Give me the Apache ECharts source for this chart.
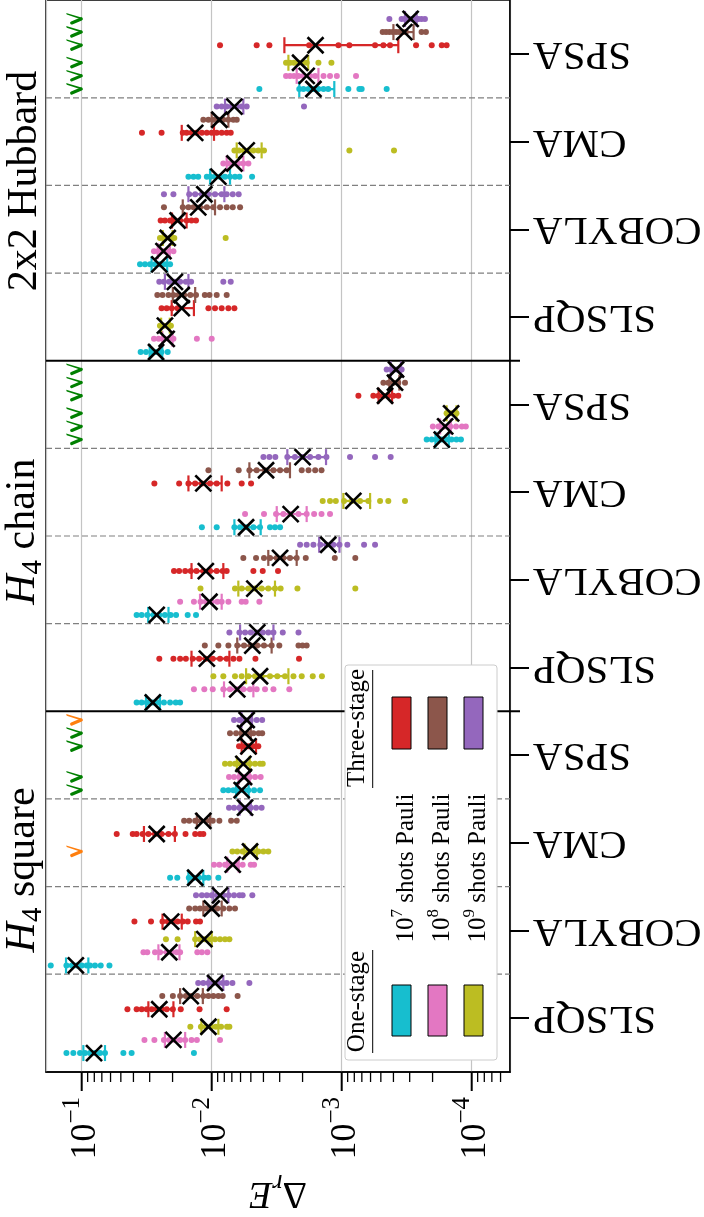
<!DOCTYPE html>
<html><head><meta charset="utf-8">
<script src="https://cdn.jsdelivr.net/npm/echarts@6/dist/echarts.min.js"></script>
<style>html,body{margin:0;padding:0;background:#fff}#c{width:704px;height:1217px}</style>
</head><body><div id="c"></div>
<script>
// ---------- categories ----------
const panelNames = ['2x2 Hubbard', 'H4 chain', 'H4 square'];
const methods = ['SPSA', 'CMA', 'COBYLA', 'SLSQP'];
const settingNames = ['One-stage 1e7', 'One-stage 1e8', 'One-stage 1e9', 'Three-stage 1e7', 'Three-stage 1e8', 'Three-stage 1e9'];
const settingColors = ['#17becf', '#e377c2', '#bcbd22', '#d62728', '#8c564b', '#9467bd'];
const majorTickValues = [1e-1, 1e-2, 1e-3, 1e-4];

// ---------- individual runs (dE), order per method: 1e7/1e8/1e9 one-stage, 1e7/1e8/1e9 three-stage ----------
const hubbardSPSA = [
  [4.30e-3, 2.12e-3, 1.97e-3, 1.80e-3, 1.65e-3, 1.51e-3, 1.38e-3, 1.27e-3, 8.89e-4, 7.31e-4, 7.02e-4, 4.51e-4],
  [2.68e-3, 2.50e-3, 2.33e-3, 2.15e-3, 1.97e-3, 1.75e-3, 1.60e-3, 1.38e-3, 1.23e-3, 1.09e-3, 7.76e-4],
  [2.68e-3, 2.50e-3, 2.33e-3, 2.15e-3, 1.99e-3, 1.86e-3, 1.51e-3, 1.20e-3],
  [8.63e-3, 4.51e-3, 3.60e-3, 1.78e-3, 1.06e-3, 8.73e-4, 5.54e-4, 4.78e-4, 4.25e-4, 2.68e-4, 2.03e-4, 1.70e-4, 1.56e-4],
  [4.84e-4, 4.56e-4, 4.30e-4, 4.05e-4, 3.82e-4, 3.60e-4, 3.40e-4, 3.21e-4, 2.43e-4, 2.25e-4],
  [4.30e-4, 3.46e-4, 3.26e-4, 3.07e-4, 2.89e-4, 2.73e-4, 2.57e-4, 2.43e-4, 2.29e-4]
];
const hubbardCMA = [
  [1.51e-2, 1.38e-2, 1.27e-2, 1.09e-2, 1.02e-2, 9.43e-3, 8.63e-3, 7.90e-3, 7.23e-3, 6.62e-3, 6.12e-3, 4.89e-3],
  [8.14e-3, 7.44e-3, 6.81e-3, 6.24e-3, 5.71e-3, 5.22e-3],
  [6.69e-3, 6.16e-3, 5.64e-3, 5.22e-3, 4.78e-3, 4.38e-3, 3.96e-3, 8.73e-4, 3.96e-4],
  [3.44e-2, 2.43e-2, 1.67e-2, 1.56e-2, 1.43e-2, 1.31e-2, 1.19e-2, 1.09e-2, 1.0e-2, 9.15e-3, 8.38e-3, 7.67e-3, 7.14e-3],
  [1.16e-2, 1.06e-2, 9.71e-3, 8.89e-3, 8.14e-3, 7.44e-3, 6.81e-3, 6.42e-3],
  [9.15e-3, 8.38e-3, 7.67e-3, 7.02e-3, 6.42e-3, 5.88e-3, 5.38e-3, 1.95e-3]
];
const hubbardCOBYLA = [
  [3.56e-2, 3.26e-2, 2.98e-2, 2.73e-2, 2.50e-2, 2.29e-2, 2.09e-2],
  [2.78e-2, 2.57e-2, 2.35e-2, 2.15e-2, 1.97e-2],
  [2.50e-2, 2.29e-2, 2.09e-2, 1.94e-2, 7.81e-3],
  [2.47e-2, 2.29e-2, 2.09e-2, 1.92e-2, 1.75e-2, 1.56e-2, 1.43e-2, 1.32e-2],
  [2.33e-2, 1.67e-2, 1.51e-2, 1.38e-2, 1.23e-2, 1.09e-2, 9.71e-3, 8.63e-3, 7.67e-3, 6.89e-3, 6.05e-3],
  [2.33e-2, 1.97e-2, 1.49e-2, 1.34e-2, 1.19e-2, 1.06e-2, 9.43e-3, 8.38e-3, 7.67e-3, 6.89e-3, 6.20e-3]
];
const hubbardSLSQP = [
  [3.52e-2, 3.20e-2, 2.89e-2, 2.65e-2, 2.43e-2, 2.18e-2],
  [2.78e-2, 2.56e-2, 2.35e-2, 2.15e-2, 1.97e-2, 1.30e-2, 1.0e-2],
  [2.50e-2, 2.33e-2, 2.15e-2, 2.06e-2],
  [2.43e-2, 2.22e-2, 2.03e-2, 1.83e-2, 1.06e-2, 9.43e-3, 8.38e-3, 7.44e-3, 6.69e-3],
  [2.62e-2, 2.39e-2, 2.15e-2, 1.97e-2, 1.80e-2, 1.63e-2, 1.46e-2, 1.32e-2, 1.13e-2, 1.04e-2, 9.15e-3, 7.67e-3],
  [2.53e-2, 2.33e-2, 2.12e-2, 1.92e-2, 1.75e-2, 1.58e-2, 1.44e-2, 8.14e-3, 7.14e-3]
];
const chainSPSA = [
  [2.22e-4, 2.03e-4, 1.86e-4, 1.70e-4, 1.56e-4, 1.43e-4, 1.31e-4, 1.21e-4],
  [1.99e-4, 1.80e-4, 1.63e-4, 1.46e-4, 1.32e-4, 1.19e-4, 1.11e-4],
  [1.56e-4, 1.43e-4, 1.31e-4],
  [7.44e-4, 5.71e-4, 5.22e-4, 4.78e-4, 4.38e-4, 4.0e-4, 3.67e-4],
  [4.78e-4, 4.38e-4, 4.0e-4, 3.67e-4, 3.26e-4],
  [4.51e-4, 4.13e-4, 3.78e-4, 3.46e-4]
];
const chainCMA = [
  [1.19e-2, 9.15e-3, 6.69e-3, 6.05e-3, 5.38e-3, 4.78e-3, 4.25e-3, 3.56e-3, 3.26e-3, 2.98e-3],
  [5.54e-3, 3.96e-3, 3.20e-3, 2.81e-3, 2.47e-3, 2.15e-3, 1.86e-3, 1.63e-3, 1.43e-3, 1.23e-3],
  [1.40e-3, 1.23e-3, 1.11e-3, 9.6e-4, 8.38e-4, 7.23e-4, 6.24e-4, 5.07e-4, 4.38e-4, 3.26e-4],
  [2.76e-2, 1.78e-2, 1.51e-2, 1.34e-2, 1.19e-2, 1.03e-2, 9.15e-3, 7.58e-3, 5.88e-3, 4.98e-3],
  [1.06e-2, 6.20e-3, 5.13e-3, 4.51e-3, 3.89e-3, 3.35e-3, 2.98e-3, 2.65e-3, 2.03e-3, 1.80e-3, 1.60e-3, 1.43e-3],
  [4.0e-3, 3.6e-3, 3.24e-3, 2.62e-3, 2.29e-3, 2.0e-3, 1.75e-3, 1.51e-3, 1.31e-3, 8.63e-4, 5.54e-4, 4.20e-4]
];
const chainCOBYLA = [
  [3.78e-2, 3.46e-2, 3.13e-2, 2.81e-2, 2.53e-2, 2.29e-2, 2.07e-2, 1.88e-2, 1.53e-2, 1.32e-2],
  [1.75e-2, 1.37e-2, 1.22e-2, 1.11e-2, 1.0e-2, 9.05e-3, 8.38e-3, 7.44e-3, 5.88e-3, 5.48e-3, 4.30e-3],
  [1.22e-2, 6.62e-3, 5.88e-3, 5.22e-3, 4.64e-3, 4.13e-3, 3.67e-3, 3.26e-3, 2.95e-3, 2.19e-3, 7.86e-4],
  [1.95e-2, 1.78e-2, 1.60e-2, 1.45e-2, 1.31e-2, 1.16e-2, 1.03e-2, 9.15e-3, 8.23e-3, 7.67e-3, 4.78e-3, 4.05e-3, 3.09e-3],
  [5.71e-3, 4.56e-3, 3.96e-3, 3.56e-3, 3.16e-3, 2.81e-3, 2.50e-3, 2.22e-3, 1.89e-3, 1.13e-3, 7.86e-4],
  [2.09e-3, 1.86e-3, 1.65e-3, 1.46e-3, 1.31e-3, 1.16e-3, 1.04e-3, 9.05e-4, 6.73e-4, 5.54e-4]
];
const chainSLSQP = [
  [3.78e-2, 3.46e-2, 3.16e-2, 2.84e-2, 2.56e-2, 2.33e-2, 2.09e-2, 1.89e-2, 1.75e-2],
  [1.37e-2, 1.14e-2, 9.82e-3, 8.14e-3, 7.23e-3, 6.42e-3, 5.71e-3, 5.07e-3, 4.51e-3, 3.89e-3, 3.35e-3, 2.53e-3],
  [9.71e-3, 8.14e-3, 6.62e-3, 5.88e-3, 5.22e-3, 4.64e-3, 4.13e-3, 3.56e-3, 3.13e-3, 2.73e-3, 2.35e-3, 2.03e-3, 1.67e-3, 1.42e-3],
  [2.53e-2, 1.97e-2, 1.75e-2, 1.58e-2, 1.40e-2, 1.25e-2, 1.11e-2, 9.82e-3, 8.63e-3, 7.67e-3, 6.81e-3, 6.12e-3, 4.61e-3, 2.13e-3],
  [1.13e-2, 8.89e-3, 7.44e-3, 6.36e-3, 5.64e-3, 5.01e-3, 4.46e-3, 3.96e-3, 3.46e-3, 3.02e-3, 2.15e-3, 2.0e-3, 1.86e-3],
  [7.31e-3, 6.12e-3, 5.54e-3, 5.01e-3, 4.51e-3, 4.05e-3, 3.67e-3, 3.35e-3, 2.84e-3, 2.15e-3]
];
const squareSPSA = [
  [8.14e-3, 7.44e-3, 6.81e-3, 6.24e-3, 5.71e-3, 5.22e-3, 4.72e-3, 4.25e-3],
  [7.36e-3, 6.73e-3, 6.12e-3, 5.64e-3, 5.10e-3, 4.64e-3, 4.20e-3],
  [7.90e-3, 7.23e-3, 6.62e-3, 6.05e-3, 5.54e-3, 5.07e-3, 4.64e-3, 4.25e-3, 4.05e-3],
  [6.16e-3, 5.71e-3, 5.22e-3, 4.78e-3, 4.38e-3],
  [7.23e-3, 6.49e-3, 5.88e-3, 5.32e-3, 4.78e-3, 4.35e-3, 4.09e-3],
  [6.73e-3, 6.12e-3, 5.54e-3, 5.01e-3, 4.51e-3, 4.09e-3]
];
const squareCMA = [
  [2.09e-2, 1.84e-2, 1.50e-2, 1.37e-2, 1.25e-2, 1.14e-2, 1.06e-2, 8.89e-3],
  [9.6e-3, 8.73e-3, 7.90e-3, 7.14e-3, 6.42e-3, 5.78e-3, 5.01e-3, 4.72e-3],
  [6.93e-3, 6.36e-3, 5.78e-3, 5.22e-3, 4.78e-3, 4.38e-3, 4.0e-3, 3.67e-3],
  [5.38e-2, 4.05e-2, 3.78e-2, 3.40e-2, 3.07e-2, 2.73e-2, 2.43e-2, 2.15e-2, 1.92e-2, 1.59e-2, 1.34e-2, 1.23e-2, 1.16e-2],
  [1.63e-2, 1.49e-2, 1.34e-2, 1.22e-2, 1.09e-2, 9.82e-3, 8.73e-3, 7.09e-3, 6.42e-3],
  [7.36e-3, 6.73e-3, 6.12e-3, 5.54e-3, 5.01e-3, 4.56e-3, 4.13e-3]
];
const squareCOBYLA = [
  [1.73e-1, 1.31e-1, 1.19e-1, 1.09e-1, 1.0e-1, 9.15e-2, 8.63e-2, 7.90e-2, 7.14e-2, 6.12e-2],
  [3.35e-2, 3.13e-2, 2.73e-2, 2.50e-2, 2.22e-2, 2.03e-2, 1.86e-2, 1.75e-2, 1.29e-2, 1.19e-2, 1.08e-2],
  [2.25e-2, 1.83e-2, 1.34e-2, 1.23e-2, 1.13e-2, 1.03e-2, 9.43e-3, 8.63e-3, 7.90e-3, 7.31e-3],
  [3.93e-2, 2.93e-2, 2.39e-2, 2.18e-2, 1.99e-2, 1.83e-2, 1.67e-2, 1.53e-2, 1.32e-2, 1.23e-2],
  [1.49e-2, 1.34e-2, 1.23e-2, 1.11e-2, 1.0e-2, 9.05e-3, 8.14e-3, 7.31e-3, 6.62e-3],
  [1.32e-2, 1.19e-2, 1.09e-2, 1.0e-2, 9.05e-3, 8.14e-3, 7.40e-3, 6.73e-3, 6.12e-3, 5.78e-3, 4.87e-3]
];
const squareSLSQP = [
  [1.31e-1, 1.16e-1, 1.03e-1, 9.43e-2, 8.63e-2, 7.90e-2, 7.23e-2, 6.62e-2, 4.78e-2, 4.13e-2, 1.37e-2],
  [3.29e-2, 2.76e-2, 2.33e-2, 2.12e-2, 1.92e-2, 1.75e-2, 1.60e-2, 1.43e-2, 1.30e-2, 8.63e-3],
  [1.46e-2, 1.21e-2, 1.11e-2, 1.01e-2, 9.31e-3, 8.47e-3, 7.62e-3, 7.31e-3],
  [4.45e-2, 3.78e-2, 3.46e-2, 3.16e-2, 2.89e-2, 2.65e-2, 2.43e-2, 2.22e-2, 1.99e-2, 1.73e-2, 1.24e-2, 7.67e-3],
  [2.40e-2, 1.99e-2, 1.75e-2, 1.58e-2, 1.43e-2, 1.29e-2, 1.16e-2, 1.06e-2, 9.71e-3, 8.89e-3, 8.23e-3, 6.32e-3],
  [1.27e-2, 1.16e-2, 1.06e-2, 9.71e-3, 8.89e-3, 8.23e-3, 7.67e-3, 6.93e-3, 5.13e-3]
];

// ---------- summary markers (X) and error bar ends, [method][setting] ----------
const hubbardMean = [
  [1.65e-3, 1.86e-3, 2.09e-3, 1.59e-3, 3.30e-4, 2.95e-4],
  [8.89e-3, 6.69e-3, 5.38e-3, 1.34e-2, 8.73e-3, 6.69e-3],
  [2.53e-2, 2.35e-2, 2.18e-2, 1.83e-2, 1.27e-2, 1.14e-2],
  [2.68e-2, 2.22e-2, 2.29e-2, 1.70e-2, 1.70e-2, 1.92e-2]
];
const hubbardLow = [
  [2.12e-3, 2.22e-3, 2.57e-3, 2.76e-3, 4.0e-4, 3.26e-4],
  [1.03e-2, 7.67e-3, 6.42e-3, 1.70e-2, 1.0e-2, 7.9e-3],
  [2.9e-2, 2.6e-2, 2.38e-2, 2.02e-2, 1.67e-2, 1.51e-2],
  [3.0e-2, 2.4e-2, 2.45e-2, 2.03e-2, 1.99e-2, 2.29e-2]
];
const hubbardHigh = [
  [1.14e-3, 1.51e-3, 1.81e-3, 3.67e-4, 2.8e-4, 2.65e-4],
  [7.23e-3, 5.71e-3, 4.13e-3, 9.6e-3, 7.44e-3, 5.71e-3],
  [2.2e-2, 2.1e-2, 2.0e-2, 1.56e-2, 9.43e-3, 7.99e-3],
  [2.4e-2, 2.0e-2, 2.1e-2, 1.37e-2, 1.34e-2, 1.51e-2]
];
const chainMean = [
  [1.70e-4, 1.60e-4, 1.44e-4, 4.64e-4, 3.89e-4, 3.82e-4],
  [5.44e-3, 2.47e-3, 8.14e-4, 1.16e-2, 3.82e-3, 2.0e-3],
  [2.65e-2, 1.04e-2, 4.70e-3, 1.11e-2, 2.98e-3, 1.27e-3],
  [2.84e-2, 6.36e-3, 4.25e-3, 1.09e-2, 4.87e-3, 4.46e-3]
];
const chainLow = [
  [1.9e-4, 1.75e-4, 1.56e-4, 5.2e-4, 4.3e-4, 4.2e-4],
  [6.69e-3, 3.16e-3, 9.71e-4, 1.51e-2, 5.13e-3, 2.62e-3],
  [3.08e-2, 1.23e-2, 6.24e-3, 1.43e-2, 3.67e-3, 1.49e-3],
  [3.2e-2, 8.04e-3, 5.44e-3, 1.43e-2, 6.36e-3, 6.05e-3]
];
const chainHigh = [
  [1.5e-4, 1.45e-4, 1.31e-4, 4.1e-4, 3.6e-4, 3.5e-4],
  [4.20e-3, 1.86e-3, 6.05e-4, 8.38e-3, 2.50e-3, 1.32e-3],
  [2.15e-2, 8.38e-3, 3.26e-3, 8.14e-3, 2.22e-3, 1.04e-3],
  [2.5e-2, 4.78e-3, 2.57e-3, 7.31e-3, 3.46e-3, 3.35e-3]
];
const squareMean = [
  [5.88e-3, 5.64e-3, 5.71e-3, 5.22e-3, 5.54e-3, 5.38e-3],
  [1.34e-2, 6.89e-3, 5.07e-3, 2.65e-2, 1.16e-2, 5.54e-3],
  [1.11e-1, 2.12e-2, 1.14e-2, 2.05e-2, 1.0e-2, 8.63e-3],
  [8.04e-2, 1.97e-2, 1.06e-2, 2.53e-2, 1.45e-2, 9.43e-3]
];
const squareLow = [
  [6.5e-3, 6.2e-3, 6.4e-3, 5.88e-3, 6.0e-3, 5.9e-3],
  [1.51e-2, 7.6e-3, 5.6e-3, 3.32e-2, 1.30e-2, 6.1e-3],
  [1.32e-1, 2.57e-2, 1.34e-2, 2.39e-2, 1.16e-2, 9.7e-3],
  [9.71e-2, 2.29e-2, 1.2e-2, 3.07e-2, 1.75e-2, 1.06e-2]
];
const squareHigh = [
  [5.2e-3, 5.1e-3, 5.1e-3, 4.56e-3, 5.0e-3, 4.9e-3],
  [1.16e-2, 6.2e-3, 4.5e-3, 1.92e-2, 1.03e-2, 5.0e-3],
  [8.89e-2, 1.77e-2, 1.0e-2, 1.70e-2, 8.38e-3, 7.44e-3],
  [6.62e-2, 1.60e-2, 8.89e-3, 1.97e-2, 1.17e-2, 8.14e-3]
];

// ---------- check marks: [panel, method, setting, kind] (kind 0 = green, 1 = orange) ----------
const checkMarks = [
  [0,0,0,0],[0,0,1,0],[0,0,2,0],[0,0,3,0],[0,0,4,0],[0,0,5,0],
  [1,0,0,0],[1,0,1,0],[1,0,2,0],[1,0,3,0],[1,0,4,0],[1,0,5,0],
  [2,0,0,0],[2,0,1,0],[2,0,3,0],[2,0,4,0],[2,0,5,1],
  [2,1,2,1]
];
const checkValue = 1e-1;
const checkColors = ['#008000', '#ff7f0e'];

// ---------- assembled tables ----------
const dots = [
  [hubbardSPSA, hubbardCMA, hubbardCOBYLA, hubbardSLSQP],
  [chainSPSA, chainCMA, chainCOBYLA, chainSLSQP],
  [squareSPSA, squareCMA, squareCOBYLA, squareSLSQP]
];
const means = [hubbardMean, chainMean, squareMean];
const lows = [hubbardLow, chainLow, squareLow];
const highs = [hubbardHigh, chainHigh, squareHigh];

// layout
const rowOffset = [0.40, 0.25, 0.10, -0.10, -0.25, -0.40];
const X_MIN = 5.075e-5, X_MAX = 0.1882;
const Y_MIN = -0.616, Y_MAX = 11.616;
const SERIF = "'Liberation Serif', 'DejaVu Serif', serif";
const panelLabelPos = [1.45, 5.45, 9.31];

const nCat = panelNames.length * methods.length;
const catValues = [];
for (let i = 0; i < nCat; i++) catValues.push(i);

function yPos(p, m, s) { return p * methods.length + m + rowOffset[s]; }

const scatterSeries = settingNames.map((name, s) => {
  const data = [];
  dots.forEach((pd, p) => pd.forEach((md, m) => md[s].forEach(v => data.push([v, yPos(p, m, s)]))));
  return {
    name, type: 'scatter', data, symbolSize: 6, z: 2,
    itemStyle: { color: settingColors[s], opacity: 1 }, emphasis: { disabled: true }
  };
});

const errData = [], meanData = [];
means.forEach((pm, p) => pm.forEach((mm, m) => mm.forEach((v, s) => {
  errData.push([lows[p][m][s], highs[p][m][s], yPos(p, m, s), s]);
  meanData.push([v, yPos(p, m, s)]);
})));

const checkData = checkMarks.map(c => [checkValue, yPos(c[0], c[1], c[2]), c[3]]);

const sepData = [];
for (let i = 0; i < nCat - 1; i++) sepData.push([1e-2, i + 0.5, (i + 1) % methods.length === 0 ? 1 : 0]);

const minorTickValues = [];
[-2, -3, -4, -5].forEach(e => { for (let k = 2; k <= 9; k++) { const v = k * Math.pow(10, e); if (v > X_MIN && v < X_MAX) minorTickValues.push(v); } });
const tickData = majorTickValues.map(v => [v, 1]).concat(minorTickValues.map(v => [v, 0]));

const chart = echarts.init(document.getElementById('c'), null, { renderer: 'canvas' });

const option = {
  animation: false,
  backgroundColor: '#fff',
  grid: { left: 46, right: 194, top: 0, height: 1072, containLabel: false, outerBoundsMode: 'none', show: true, borderColor: '#000', borderWidth: 1.5, backgroundColor: 'transparent' },
  xAxis: {
    type: 'log', logBase: 10, inverse: true, min: X_MIN, max: X_MAX,
    axisLine: { show: true, onZero: false, lineStyle: { color: '#000', width: 1.5 } },
    axisTick: { show: false },
    splitLine: { show: true, lineStyle: { color: '#c4c4c4', width: 1.2 } },
    axisLabel: {
      rotate: 90, margin: 25, showMinLabel: false, showMaxLabel: false, color: '#000',
      formatter: v => '{b|10}{s|\u2212' + (-Math.round(Math.log10(v))) + '}',
      rich: {
        b: { fontFamily: SERIF, fontSize: 36, color: '#000', padding: [7, 0, 0, 0] },
        s: { fontFamily: SERIF, fontSize: 25, color: '#000', verticalAlign: 'top' }
      }
    },
    name: '{d|\u0394}{r|r}{e|E}', nameLocation: 'middle', nameGap: 97, nameRotate: 180,
    nameTextStyle: {
      color: '#000',
      rich: {
        d: { fontFamily: SERIF, fontSize: 38, color: '#000', padding: [0, 0, 5, 0] },
        r: { fontFamily: SERIF, fontSize: 27, fontStyle: 'italic', color: '#000', verticalAlign: 'bottom' },
        e: { fontFamily: SERIF, fontSize: 38, fontStyle: 'italic', color: '#000', padding: [0, 0, 5, 0] }
      }
    }
  },
  yAxis: {
    type: 'value', inverse: true, min: Y_MIN, max: Y_MAX, position: 'right',
    axisLine: { show: true, onZero: false, lineStyle: { color: '#000', width: 1.5 } },
    axisTick: { show: true, customValues: catValues, length: 19, lineStyle: { color: '#000', width: 2 } },
    splitLine: { show: false },
    axisLabel: {
      customValues: catValues, rotate: 180, margin: 23, color: '#000',
      fontFamily: SERIF, fontSize: 41,
      formatter: v => methods[Math.round(v) % methods.length]
    }
  },
  series: [
    {
      type: 'custom', name: 'separators', data: sepData, z: 1, clip: false, silent: true,
      encode: { x: 0, y: 1 },
      renderItem: (params, api) => {
        const y = api.coord([api.value(0), api.value(1)])[1];
        const cs = params.coordSys;
        const solid = api.value(2) === 1;
        return {
          type: 'line',
          shape: { x1: cs.x, y1: y, x2: cs.x + cs.width + (solid ? 10 : 0), y2: y },
          style: solid ? { stroke: '#000', lineWidth: 2 } : { stroke: '#808080', lineWidth: 1.2, lineDash: [6, 3] }
        };
      }
    },
    {
      type: 'custom', name: 'ticks', data: tickData, z: 5, clip: false, silent: true,
      encode: { x: 0 },
      renderItem: (params, api) => {
        const major = api.value(1) === 1;
        const p = api.coord([api.value(0), Y_MAX]);
        return {
          type: 'line',
          shape: { x1: p[0], y1: p[1], x2: p[0], y2: p[1] + (major ? 19 : 10) },
          style: { stroke: '#000', lineWidth: major ? 2 : 1.3 }
        };
      }
    },
    ...scatterSeries,
    {
      type: 'custom', name: 'error bars', data: errData, z: 3, clip: false, silent: true,
      encode: { x: [0, 1], y: 2 },
      renderItem: (params, api) => {
        const y = api.value(2);
        const a = api.coord([api.value(0), y]);
        const b = api.coord([api.value(1), y]);
        const c = settingColors[api.value(3)];
        const st = { stroke: c, lineWidth: 2.2 };
        return {
          type: 'group', children: [
            { type: 'line', shape: { x1: a[0], y1: a[1], x2: b[0], y2: b[1] }, style: st },
            { type: 'line', shape: { x1: a[0], y1: a[1] - 8, x2: a[0], y2: a[1] + 8 }, style: st },
            { type: 'line', shape: { x1: b[0], y1: b[1] - 8, x2: b[0], y2: b[1] + 8 }, style: st }
          ]
        };
      }
    },
    {
      type: 'custom', name: 'mean', data: meanData, z: 4, clip: false, silent: true,
      encode: { x: 0, y: 1 },
      renderItem: (params, api) => {
        const p = api.coord([api.value(0), api.value(1)]);
        const h = 8, st = { stroke: '#000', lineWidth: 2.6 };
        return {
          type: 'group', children: [
            { type: 'line', shape: { x1: p[0] - h, y1: p[1] - h, x2: p[0] + h, y2: p[1] + h }, style: st },
            { type: 'line', shape: { x1: p[0] - h, y1: p[1] + h, x2: p[0] + h, y2: p[1] - h }, style: st }
          ]
        };
      }
    },
    {
      type: 'custom', name: 'checks', data: checkData, z: 4, clip: false, silent: true,
      encode: { x: 0, y: 1 },
      renderItem: (params, api) => {
        const p = api.coord([api.value(0), api.value(1)]);
        const c = checkColors[api.value(2)];
        return {
          type: 'group', children: [
            { type: 'polygon', shape: { points: [[p[0] - 15.5, p[1] - 6], [p[0] + 0.5, p[1] - 1.3], [p[0] + 0.5, p[1] + 0.7], [p[0] - 15, p[1] - 4.4]] }, style: { fill: c } },
            { type: 'line', shape: { x1: p[0] - 0.5, y1: p[1], x2: p[0] - 10, y2: p[1] + 4 }, style: { stroke: c, lineWidth: 3.2, lineCap: 'round' } }
          ]
        };
      }
    },
    {
      type: 'custom', name: 'panel labels', data: panelLabelPos.map((v, i) => [X_MAX, v, i]), z: 5, clip: false, silent: true,
      encode: { x: 0, y: 1 },
      renderItem: (params, api) => {
        const p = api.coord([X_MAX, api.value(1)]);
        const i = api.value(2);
        const name = panelNames[i];
        const isH = name.indexOf('H4') === 0;
        const txt = isH ? '{h|H}{s|4}{n|' + name.slice(2) + '}' : '{n|' + name + '}';
        return {
          type: 'text', x: p[0] - (isH ? 21 : 19), y: p[1], rotation: Math.PI / 2,
          style: {
            text: txt, align: 'center', verticalAlign: 'middle',
            rich: {
              h: { fontFamily: SERIF, fontSize: 42, fontStyle: 'italic', fill: '#000', padding: [0, 0, 4, 0] },
              s: { fontFamily: SERIF, fontSize: 29, fill: '#000', verticalAlign: 'bottom' },
              n: { fontFamily: SERIF, fontSize: 42, fill: '#000', padding: [0, 0, 4, 0] }
            }
          }
        };
      }
    }
  ],
  graphic: [
    { type: 'rect', z: 100, shape: { x: 345, y: 665, width: 152, height: 395, r: 3 }, style: { fill: '#fff', stroke: '#cccccc', lineWidth: 1 } },
    { type: 'text', z: 101, x: 357.5, y: 728, rotation: Math.PI / 2, style: { text: 'Three-stage', font: '25px ' + SERIF, fill: '#000', align: 'center', verticalAlign: 'middle' } },
    { type: 'line', z: 101, shape: { x1: 372.7, y1: 670, x2: 372.7, y2: 788 }, style: { stroke: '#000', lineWidth: 1 } },
    { type: 'text', z: 101, x: 357.5, y: 1001.5, rotation: Math.PI / 2, style: { text: 'One-stage', font: '25px ' + SERIF, fill: '#000', align: 'center', verticalAlign: 'middle' } },
    { type: 'line', z: 101, shape: { x1: 372.7, y1: 950, x2: 372.7, y2: 1053 }, style: { stroke: '#000', lineWidth: 1 } },
    ...[0, 1, 2].map(k => ({ type: 'rect', z: 101, shape: { x: 392 + 36 * k, y: 697, width: 19, height: 52 }, style: { fill: settingColors[3 + k], stroke: '#000', lineWidth: 1 } })),
    ...[0, 1, 2].map(k => ({ type: 'rect', z: 101, shape: { x: 392 + 36 * k, y: 985, width: 19, height: 51 }, style: { fill: settingColors[k], stroke: '#000', lineWidth: 1 } })),
    ...[7, 8, 9].map((e, k) => ({
      type: 'text', z: 101, x: 404 + 36 * k, y: 868, rotation: Math.PI / 2,
      style: {
        text: '{b|10}{s|' + e + '}{b| shots Pauli}', align: 'center', verticalAlign: 'middle',
        rich: {
          b: { fontFamily: SERIF, fontSize: 25, fill: '#000', padding: [5, 0, 0, 0] },
          s: { fontFamily: SERIF, fontSize: 17, fill: '#000', verticalAlign: 'top' }
        }
      }
    }))
  ]
};
chart.setOption(option);
</script></body></html>
